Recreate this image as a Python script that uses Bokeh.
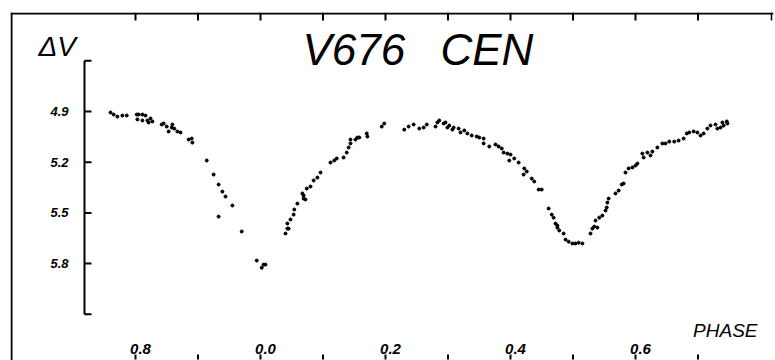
import numpy as np
from bokeh.plotting import figure
from bokeh.models import Range1d, Label, Span
from bokeh.core.properties import value
from bokeh.embed import file_html
from bokeh.resources import INLINE

# ---- data: phase (negative = 0.6..1.0 wrapped) and Delta V ----
phase_min1 = [-0.240, -0.235, -0.229, -0.221, -0.214, -0.198, -0.195, -0.189, -0.184, -0.197,
              -0.189, -0.181, -0.179, -0.176, -0.173, -0.158, -0.155, -0.150, -0.147, -0.142,
              -0.138, -0.133, -0.128, -0.141, -0.115, -0.110, -0.109, -0.086, -0.075, -0.067,
              -0.061, -0.056, -0.045, -0.067, -0.030, -0.006, 0.002, 0.005, 0.008]
dv_min1 = [4.906, 4.918, 4.930, 4.924, 4.924, 4.918, 4.918, 4.918, 4.924, 4.947,
           4.953, 4.953, 4.965, 4.941, 4.959, 4.977, 4.971, 4.989, 5.018, 4.995,
           5.001, 5.018, 5.024, 4.977, 5.066, 5.060, 5.084, 5.190, 5.273, 5.332,
           5.374, 5.403, 5.456, 5.522, 5.610, 5.782, 5.824, 5.806, 5.806]

phase_rise1 = [0.040, 0.043, 0.045, 0.043, 0.048, 0.053, 0.054, 0.059, 0.069, 0.072,
               0.069, 0.067, 0.074, 0.080, 0.085, 0.091, 0.096, 0.112, 0.118, 0.122,
               0.133, 0.138, 0.141, 0.144, 0.144, 0.152, 0.155, 0.158, 0.170, 0.171,
               0.194, 0.198, 0.230, 0.237]
dv_rise1 = [5.622, 5.593, 5.593, 5.563, 5.539, 5.510, 5.480, 5.445, 5.415, 5.421,
            5.397, 5.385, 5.356, 5.344, 5.308, 5.291, 5.261, 5.202, 5.190, 5.178,
            5.172, 5.143, 5.113, 5.089, 5.066, 5.066, 5.054, 5.054, 5.030, 5.048,
            4.989, 4.971, 5.007, 4.989]

phase_fall2 = [0.245, 0.254, 0.261, 0.266, 0.280, 0.283, 0.286, 0.293, 0.296, 0.299,
               0.302, 0.307, 0.309, 0.317, 0.320, 0.326, 0.331, 0.338, 0.346, 0.350,
               0.357, 0.357, 0.366, 0.376, 0.381, 0.386, 0.389, 0.395, 0.400, 0.398,
               0.406, 0.413, 0.422, 0.426, 0.421, 0.434, 0.438, 0.445, 0.450]
dv_fall2 = [4.977, 5.001, 4.995, 4.977, 4.989, 4.965, 4.953, 4.971, 4.965, 4.995,
            4.983, 5.007, 4.995, 5.001, 5.024, 5.012, 5.030, 5.042, 5.048, 5.054,
            5.060, 5.089, 5.107, 5.095, 5.107, 5.119, 5.143, 5.149, 5.155, 5.190,
            5.178, 5.202, 5.237, 5.255, 5.273, 5.297, 5.314, 5.362, 5.362]

phase_min2 = [0.461, 0.466, 0.469, 0.472, 0.475, 0.475, 0.478, 0.485, 0.488, 0.493,
              0.499, 0.504, 0.509, 0.515, 0.528, 0.531, 0.534, 0.539, 0.536, 0.542,
              0.547, 0.552, 0.554, 0.555, 0.557, 0.568, 0.573, 0.578, 0.581, 0.584,
              0.589, 0.595, 0.600, 0.603]
dv_min2 = [5.474, 5.510, 5.528, 5.563, 5.575, 5.587, 5.604, 5.622, 5.658, 5.670,
           5.681, 5.681, 5.676, 5.681, 5.622, 5.593, 5.581, 5.587, 5.545, 5.528,
           5.516, 5.486, 5.468, 5.439, 5.415, 5.385, 5.368, 5.332, 5.326, 5.261,
           5.237, 5.231, 5.220, 5.208]

phase_rise2 = [0.613, 0.611, 0.619, 0.624, 0.627, 0.635, 0.643, 0.648, 0.654, 0.662,
               0.669, 0.677, 0.682, 0.686, 0.693, 0.699, 0.704, 0.709, 0.715, 0.720,
               0.728, 0.731, 0.736, 0.739, 0.746, 0.741, 0.747]
dv_rise2 = [5.172, 5.149, 5.143, 5.160, 5.137, 5.113, 5.089, 5.089, 5.078, 5.078,
            5.072, 5.060, 5.030, 5.024, 5.018, 5.024, 5.042, 5.030, 5.001, 4.983,
            4.977, 5.001, 4.995, 4.965, 4.959, 4.983, 4.971]

# ---- ticks ----
y_ticks = [4.6, 4.9, 5.2, 5.5, 5.8, 6.1]
y_label_vals = [4.9, 5.2, 5.5, 5.8]
y_label_text = ["4.9", "5.2", "5.5", "5.8"]
x_ticks = [-0.2, -0.1, 0.0, 0.1, 0.2, 0.3, 0.4, 0.5, 0.6, 0.7]
x_label_vals = [-0.2, 0.0, 0.2, 0.4, 0.6]
x_label_text = ["0.8", "0.0", "0.2", "0.4", "0.6"]

# ---- ranges / placement ----
W, H = 775, 360
ML, MR, MT, MB = 10, 2, 12, 0
X0, X1 = -0.4, 0.8208
Y_BOT, Y_TOP = 6.3734, 4.3142
AXIS_X = -0.2816
DX = (X1 - X0) / (W - ML - MR)      # data units per pixel
DY = (Y_BOT - Y_TOP) / (H - MT - MB)

phase = phase_min1 + phase_rise1 + phase_fall2 + phase_min2 + phase_rise2
dv = dv_min1 + dv_rise1 + dv_fall2 + dv_min2 + dv_rise2

p = figure(width=W, height=H, x_range=Range1d(X0, X1), y_range=Range1d(Y_BOT, Y_TOP),
           output_backend="svg", toolbar_location=None,
           x_axis_location=None, y_axis_location=None,
           min_border_left=ML, min_border_right=MR, min_border_top=MT, min_border_bottom=MB)
p.grid.visible = False
p.outline_line_color = None
p.background_fill_color = "white"
p.border_fill_color = "white"

# outer box: left and top edges, short cap at the top-right end
p.add_layout(Span(location=X0 + DX, dimension="height", line_color="black", line_width=2))
p.add_layout(Span(location=Y_TOP + DY, dimension="width", line_color="black", line_width=2))
p.segment(x0=[X1 - 2 * DX], y0=[Y_TOP], x1=[X1 - 2 * DX], y1=[Y_TOP + 8 * DY],
          line_color="black", line_width=1.5)

# data points
p.scatter(phase, dv, size=3, color="black", marker="circle")

# inner Delta V axis (bracket)
p.line([AXIS_X, AXIS_X], [y_ticks[0], y_ticks[-1]], line_color="black", line_width=2)
p.segment(x0=[AXIS_X] * len(y_ticks), y0=y_ticks,
          x1=[AXIS_X + 7 * DX] * len(y_ticks), y1=y_ticks,
          line_color="black", line_width=2)
p.text(x=[AXIS_X] * len(y_label_vals), y=y_label_vals, text=y_label_text,
       text_align="right", text_baseline="middle", x_offset=-16,
       text_font=value("Liberation Sans"), text_font_style="bold italic",
       text_font_size="13px", text_color="black")

# frame ticks top (down) and bottom (up)
n = len(x_ticks)
p.segment(x0=x_ticks, y0=[Y_TOP] * n, x1=x_ticks, y1=[Y_TOP + 8 * DY] * n,
          line_color="black", line_width=2)
p.segment(x0=x_ticks, y0=[Y_BOT - DY] * n, x1=x_ticks, y1=[Y_BOT - 6 * DY] * n,
          line_color="black", line_width=2)
p.text(x=x_label_vals, y=[Y_BOT - 12 * DY] * len(x_label_vals), text=x_label_text,
       text_align="center", text_baseline="middle", x_offset=5,
       text_font=value("Liberation Sans"), text_font_style="bold italic",
       text_font_size="15px", text_color="black")

title_font = dict(text_font="Liberation Sans", text_font_style="italic",
                  text_font_size="44px", text_color="black",
                  text_align="left", text_baseline="middle")
p.add_layout(Label(x=0.0672, y=4.533, text="V676", **title_font))
p.add_layout(Label(x=0.288, y=4.533, text="CEN", **title_font))
p.add_layout(Label(x=-0.3552, y=4.515, text="ΔV", text_align="left",
                   text_baseline="middle", text_font="Liberation Sans",
                   text_font_style="italic", text_font_size="28px", text_color="black"))
p.add_layout(Label(x=0.7952, y=6.196, text="PHASE", text_align="right",
                   text_baseline="middle", text_font="Liberation Sans",
                   text_font_style="italic", text_font_size="19px", text_color="black"))

open("out.html", "w").write(file_html(p, INLINE))
